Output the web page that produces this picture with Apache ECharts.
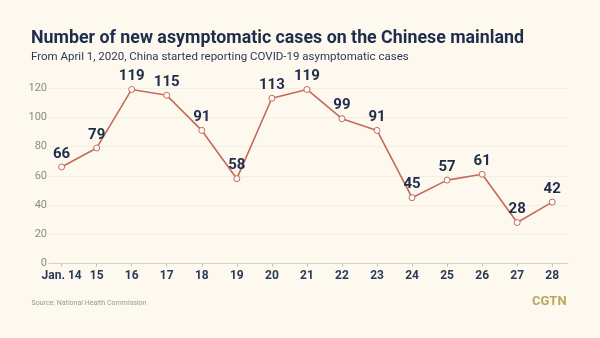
<!DOCTYPE html>
<html>
<head>
<meta charset="utf-8">
<script src="https://cdn.jsdelivr.net/npm/echarts@6/dist/echarts.min.js"></script>
<style>
html,body{margin:0;padding:0;background:#fdf9ef;}
#c{width:600px;height:338px;}
</style>
</head>
<body>
<div id="c"></div>
<script>
const categories = ['Jan. 14','15','16','17','18','19','20','21','22','23','24','25','26','27','28'];
const values = [66, 79, 119, 115, 91, 58, 113, 119, 99, 91, 45, 57, 61, 28, 42];
const yTicks = [0, 20, 40, 60, 80, 100, 120];
const titleText = 'Number of new asymptomatic cases on the Chinese mainland';
const subtitleText = 'From April 1, 2020, China started reporting COVID-19 asymptomatic cases';
const sourceText = 'Source: National Health Commission';
const logoText = 'CGTN';

const FONT = 'Roboto, "Noto Sans", sans-serif';
const ctx = document.createElement('canvas').getContext('2d');
function fitScale(text, font, target) {
  ctx.font = font;
  const w = ctx.measureText(text).width;
  return Math.min(1, target / w);
}
const titleScale = fitScale(titleText, 'bold 19px Roboto', 493);
const subScale = fitScale(subtitleText, '11.5px Roboto', 384);
const srcScale = fitScale(sourceText, '7.5px Roboto', 115);

const idx = categories.map((c, i) => i);
const chart = echarts.init(document.getElementById('c'));
chart.setOption({
  backgroundColor: '#fdf9ef',
  animation: false,
  grid: {left: 49, right: 32, top: 88, bottom: 74.5},
  xAxis: {
    type: 'value', min: -0.36, max: 14.45,
    axisLine: {show: true, lineStyle: {color: '#d6d2c8', width: 1}},
    axisTick: {show: true, customValues: idx, length: 3, lineStyle: {color: '#c4c0b6'}},
    axisLabel: {customValues: idx, formatter: v => categories[v], margin: 6,
      fontFamily: FONT, fontWeight: 'bold', fontSize: 12, color: '#2b3a58'},
    splitLine: {show: false}
  },
  yAxis: {
    type: 'value', min: yTicks[0], max: yTicks[yTicks.length - 1], interval: 20,
    axisLine: {show: false}, axisTick: {show: false},
    axisLabel: {margin: 2, fontFamily: FONT, fontSize: 11, color: '#8a8a8a'},
    splitLine: {lineStyle: {color: '#f3eee1', width: 1}}
  },
  series: [{
    type: 'line',
    data: values.map((v, i) => [i, v]),
    symbol: 'circle', symbolSize: 6,
    lineStyle: {color: '#c46a5c', width: 1.6},
    itemStyle: {color: '#fffdf8', borderColor: '#c46a5c', borderWidth: 1},
    label: {show: true, position: 'top', distance: 2, formatter: p => p.value[1],
      fontFamily: FONT, fontWeight: 'bold', fontSize: 15, color: '#1f2c4c'}
  }],
  graphic: [
    {type: 'text', x: 31, y: 29.2, scaleX: titleScale, originX: 0,
      style: {text: titleText, fontFamily: FONT, fontWeight: 'bold', fontSize: 19, fill: '#1f2c4c', verticalAlign: 'top'}},
    {type: 'text', x: 31, y: 51.2, scaleX: subScale, originX: 0,
      style: {text: subtitleText, fontFamily: FONT, fontSize: 11.5, fill: '#2b3858', verticalAlign: 'top'}},
    {type: 'text', x: 31.5, y: 299, scaleX: srcScale, originX: 0,
      style: {text: sourceText, fontFamily: FONT, fontSize: 7.5, fill: '#9a9890', verticalAlign: 'top'}},
    {type: 'text', x: 532, y: 295, 
      style: {text: logoText, fontFamily: FONT, fontWeight: 'bold', fontSize: 13, fill: '#b8a95e', verticalAlign: 'top'}}
  ]
});
</script>
</body>
</html>
